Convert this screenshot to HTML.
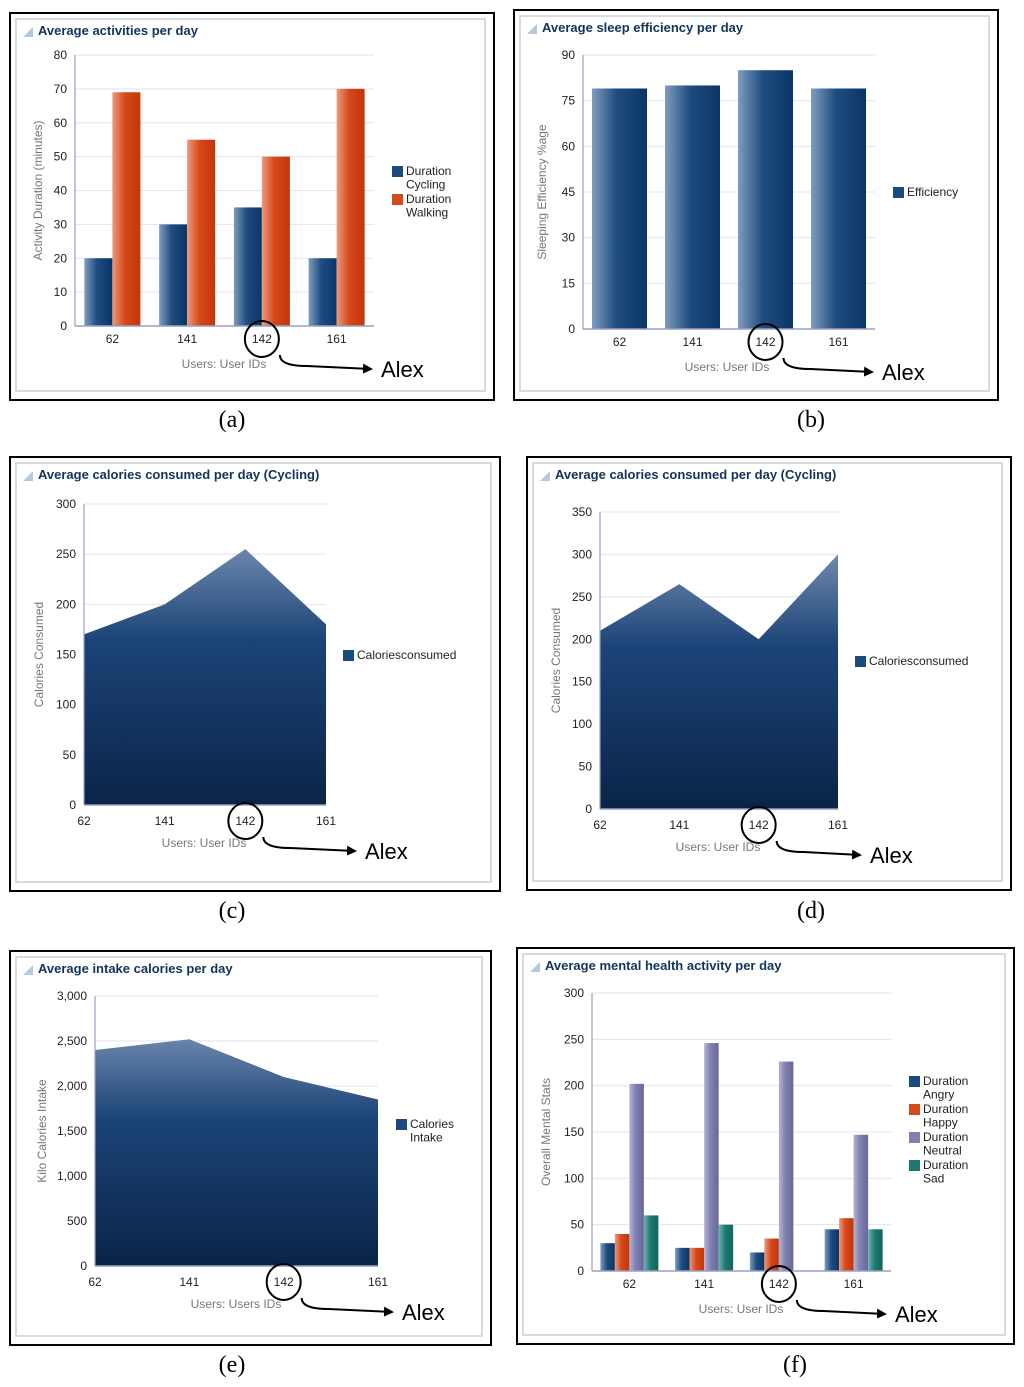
<!DOCTYPE html>
<html><head><meta charset="utf-8"><style>
body{margin:0;background:#fff;width:1024px;height:1387px;overflow:hidden}
svg{display:block}
text{font-family:"Liberation Sans","DejaVu Sans",sans-serif}
</style></head><body>
<svg id="s" width="1024" height="1387" viewBox="0 0 1024 1387" xmlns="http://www.w3.org/2000/svg">
<defs>
<linearGradient id="gBlue" x1="0" x2="1" y1="0" y2="0"><stop offset="0" stop-color="#7f9cbd"/><stop offset="0.45" stop-color="#1f4c80"/><stop offset="1" stop-color="#0b3566"/></linearGradient>
<linearGradient id="gOrange" x1="0" x2="1" y1="0" y2="0"><stop offset="0" stop-color="#ec9a7c"/><stop offset="0.45" stop-color="#d5481a"/><stop offset="1" stop-color="#c2360a"/></linearGradient>
<linearGradient id="gPurple" x1="0" x2="1" y1="0" y2="0"><stop offset="0" stop-color="#b3b3d6"/><stop offset="0.45" stop-color="#7f7fb0"/><stop offset="1" stop-color="#676799"/></linearGradient>
<linearGradient id="gTeal" x1="0" x2="1" y1="0" y2="0"><stop offset="0" stop-color="#6fb5ae"/><stop offset="0.45" stop-color="#1f7a72"/><stop offset="1" stop-color="#0f655e"/></linearGradient>
<marker id="arr" markerWidth="10" markerHeight="10" refX="8" refY="5" orient="auto" markerUnits="userSpaceOnUse"><path d="M0,0 L10,5 L0,10 z" fill="#000"/></marker>
</defs>
</svg>
<script>
// Data arrays
const users = ["62","141","142","161"];
const cyclingMin = [20,30,35,20];
const walkingMin = [69,55,50,70];
const sleepEff = [79,80,85,79];
const calCyclingC = [170,200,255,180];
const calCyclingD = [210,265,200,300];
const intakeCal = [2400,2520,2100,1850];
const angry = [30,25,20,45];
const happy = [40,25,35,57];
const neutral = [202,246,226,147];
const sad = [60,50,0,45];
const ticksA = [0,10,20,30,40,50,60,70,80];
const ticksB = [0,15,30,45,60,75,90];
const ticksC = [0,50,100,150,200,250,300];
const ticksD = [0,50,100,150,200,250,300,350];
const ticksE = [0,500,1000,1500,2000,2500,3000];
const ticksELabels = ["0","500","1,000","1,500","2,000","2,500","3,000"];
const ticksF = [0,50,100,150,200,250,300];

const S=document.getElementById('s');
const NS='http://www.w3.org/2000/svg';
function mk(tag,at,parent,txt){const e=document.createElementNS(NS,tag);for(const k in at)e.setAttribute(k,at[k]);if(txt!==undefined)e.textContent=txt;(parent||S).appendChild(e);return e;}

function panel(p){
  const g=mk('g',{});
  
  
  const o=mk('rect',{x:p.ox,y:p.oy,width:p.ow,height:p.oh,fill:'#fff',stroke:'#000','stroke-width':2},g);
  
  const inr=mk('rect',{x:p.ox+6,y:p.oy+6,width:p.ow-15,height:p.oh-15,fill:'#fff',stroke:'#d6dbe2','stroke-width':2},g);
  
  mk('path',{d:`M${p.ox+13},${p.oy+24} L${p.ox+23},${p.oy+14} L${p.ox+23},${p.oy+24} z`,fill:'#b8c8dc'},g);
  const t=mk('text',{x:p.ox+28,y:p.oy+22,'font-size':13,'font-weight':'bold',fill:'#12345c'},g,p.title);
  
  const {x0,x1,yB,yT,max}=p;
  const Y=v=>yB-(v/max)*(yB-yT);
  p.ticks.forEach((v,i)=>{
    mk('line',{x1:x0,x2:x1,y1:Y(v),y2:Y(v),stroke:'#e2e4ee','stroke-width':1},g);
    const tl=mk('text',{x:x0-8,y:Y(v)+4,'font-size':12,'text-anchor':'end',fill:'#222'},g,p.tickLabels?p.tickLabels[i]:String(v));
    
  });
  const n=users.length;
  if(p.type==='bar'){
    const gw=(x1-x0)/n;
    users.forEach((u,i)=>{
      const c=x0+gw*(i+0.5);
      const bw=p.bw, tot=bw*p.series.length;
      p.series.forEach((s,j)=>{
        const v=s.data[i]; if(!v) return;
        const bx=c-tot/2+j*bw;
        const r=mk('rect',{x:bx,y:Y(v),width:bw,height:yB-Y(v),fill:s.fill},g);
        
      });
    });
  } else {
    const X=i=>x0+(x1-x0)*i/(n-1);
    let d=`M${X(0)},${yB}`;
    p.area.forEach((v,i)=>{d+=` L${X(i)},${Y(v)}`;});
    d+=` L${X(n-1)},${yB} z`;
    const lg=mk('linearGradient',{id:'gAreaU'+p.id,x1:0,x2:0,y1:yT,y2:yB,gradientUnits:'userSpaceOnUse'},S.querySelector('defs'));
    mk('stop',{offset:0,'stop-color':'#93a9c6'},lg);mk('stop',{offset:0.45,'stop-color':'#1c4478'},lg);mk('stop',{offset:1,'stop-color':'#0a2448'},lg);
    const a=mk('path',{d,fill:'url(#gAreaU'+p.id+')'},g);
    
  }
  mk('line',{x1:x0,x2:x0,y1:yT,y2:yB,stroke:'#9aa0c4','stroke-width':1.2},g);
  mk('line',{x1:x0,x2:x1,y1:yB,y2:yB,stroke:'#9aa0c4','stroke-width':1.5},g);
  const lo=p.type==='bar'?17:20;
  const cx=[];
  users.forEach((u,i)=>{
    const x=p.type==='bar'?x0+(x1-x0)/n*(i+0.5):x0+(x1-x0)*i/(n-1);
    cx.push(x);
    const tl=mk('text',{x,y:yB+lo,'font-size':12,'text-anchor':'middle',fill:'#222'},g,u);
    
  });
  const xt=mk('text',{x:p.xtX,y:yB+42,'font-size':12,'text-anchor':'middle',fill:'#777'},g,p.xTitle);
  
  const yy=(yT+yB)/2;
  const yt=mk('text',{x:p.ytX,y:yy,'font-size':12,'text-anchor':'middle',fill:'#777',transform:`rotate(-90 ${p.ytX} ${yy})`},g,p.yTitle);
  
  let ly=p.ly;
  p.legend.forEach(l=>{
    const sw=mk('rect',{x:p.lx,y:ly-9,width:11,height:11,fill:l.fill},g);
    
    l.lines.forEach((ln,k)=>{
      const lt=mk('text',{x:p.lx+14,y:ly+k*13.5,'font-size':12,fill:'#222'},g,ln);
      
    });
    ly+=l.lines.length*13.5+(l.lines.length>1?1:0);
  });
  const ax=cx[2], ay=yB+lo-4;
  const c=mk('ellipse',{cx:ax,cy:ay,rx:17,ry:18,fill:'none',stroke:'#000','stroke-width':2},g);
  
  const ex=p.alexX-10;
  const ar=mk('path',{d:`M${ax+18},${ay+16} Q${ax+18},${ay+27} ${ax+45},${ay+27} L${ex},${ay+30}`,fill:'none',stroke:'#000','stroke-width':2,'marker-end':'url(#arr)'},g);
  
  const at=mk('text',{x:p.alexX,y:ay+38,'font-size':22,fill:'#000'},g,'Alex');
  
  const cap=mk('text',{x:p.capX,y:p.capY,'font-size':24,'text-anchor':'middle',fill:'#000',style:'font-family:"Liberation Serif",serif'},g,p.cap);
  
}

const B={fill:'url(#gBlue)'},O={fill:'url(#gOrange)'},P={fill:'url(#gPurple)'},T={fill:'url(#gTeal)'};
panel({id:'a',name:'chart-activities',ox:10,oy:13,ow:484,oh:387,title:'Average activities per day',type:'bar',x0:75,x1:374,yB:326,yT:55,max:80,ticks:ticksA,bw:28,
 series:[{key:'cycling',data:cyclingMin,fill:B.fill},{key:'walking',data:walkingMin,fill:O.fill}],
 xTitle:'Users: User IDs',xtX:224,yTitle:'Activity Duration (minutes)',ytX:42,lx:392,ly:175,
 legend:[{fill:'#1b4a80',lines:['Duration','Cycling']},{fill:'#d44a1c',lines:['Duration','Walking']}],alexX:381,cap:'(a)',capX:232,capY:427});
panel({id:'b',name:'chart-sleep-efficiency',ox:514,oy:10,ow:484,oh:390,title:'Average sleep efficiency per day',type:'bar',x0:583,x1:875,yB:329,yT:55,max:90,ticks:ticksB,bw:55,
 series:[{key:'efficiency',data:sleepEff,fill:B.fill}],
 xTitle:'Users: User IDs',xtX:727,yTitle:'Sleeping Efficiency %age',ytX:546,lx:893,ly:196,
 legend:[{fill:'#1b4a80',lines:['Efficiency']}],alexX:882,cap:'(b)',capX:811,capY:427});
panel({id:'c',name:'chart-calories-cycling-c',ox:10,oy:457,ow:490,oh:434,title:'Average calories consumed per day (Cycling)',type:'area',x0:84,x1:326,yB:805,yT:504,max:300,ticks:ticksC,area:calCyclingC,
 xTitle:'Users: User IDs',xtX:204,yTitle:'Calories Consumed',ytX:43,lx:343,ly:659,
 legend:[{fill:'#1b4a80',lines:['Caloriesconsumed']}],alexX:365,cap:'(c)',capX:232,capY:918});
panel({id:'d',name:'chart-calories-cycling-d',ox:527,oy:457,ow:484,oh:433,title:'Average calories consumed per day (Cycling)',type:'area',x0:600,x1:838,yB:809,yT:512,max:350,ticks:ticksD,area:calCyclingD,
 xTitle:'Users: User IDs',xtX:718,yTitle:'Calories Consumed',ytX:560,lx:855,ly:665,
 legend:[{fill:'#1b4a80',lines:['Caloriesconsumed']}],alexX:870,cap:'(d)',capX:811,capY:918});
panel({id:'e',name:'chart-intake-calories',ox:10,oy:951,ow:481,oh:394,title:'Average intake calories per day',type:'area',x0:95,x1:378,yB:1266,yT:996,max:3000,ticks:ticksE,tickLabels:ticksELabels,area:intakeCal,
 xTitle:'Users: Users IDs',xtX:236,yTitle:'Kilo Calories Intake',ytX:46,lx:396,ly:1128,
 legend:[{fill:'#1b4a80',lines:['Calories','Intake']}],alexX:402,cap:'(e)',capX:232,capY:1372});
panel({id:'f',name:'chart-mental-health',ox:517,oy:948,ow:497,oh:396,title:'Average mental health activity per day',type:'bar',x0:592,x1:891,yB:1271,yT:993,max:300,ticks:ticksF,bw:14.5,
 series:[{key:'angry',data:angry,fill:B.fill},{key:'happy',data:happy,fill:O.fill},{key:'neutral',data:neutral,fill:P.fill},{key:'sad',data:sad,fill:T.fill}],
 xTitle:'Users: User IDs',xtX:741,yTitle:'Overall Mental Stats',ytX:550,lx:909,ly:1085,
 legend:[{fill:'#1b4a80',lines:['Duration','Angry']},{fill:'#d44a1c',lines:['Duration','Happy']},{fill:'#8080b0',lines:['Duration','Neutral']},{fill:'#1a7a72',lines:['Duration','Sad']}],alexX:895,cap:'(f)',capX:795,capY:1372});
</script>
</body></html>
